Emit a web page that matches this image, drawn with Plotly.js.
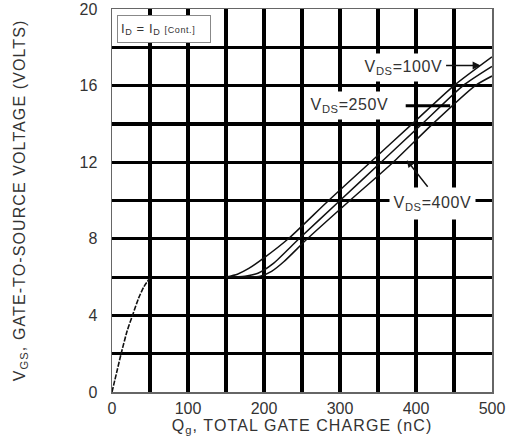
<!DOCTYPE html>
<html>
<head>
<meta charset="utf-8">
<script src="https://cdn.plot.ly/plotly-3.0.1.min.js"></script>
<style>
html,body{margin:0;padding:0;background:#fff;}
#chart{width:507px;height:439px;}
#chart .xtitle, #chart .ytitle {letter-spacing: 1.1px;}
#chart .annotation-text {letter-spacing: 0.6px;}
</style>
</head>
<body>
<div id="chart"></div>
<script>
// Gate charge data (Qg in nC, VGS in volts)
var qgInitial = [0, 6, 12, 20, 27, 35, 42, 50];
var vgsInitial = [0, 1, 2, 3.2, 4, 4.9, 5.5, 5.95];

var qg100 = [150, 165, 180, 200, 232, 285, 340, 395, 450, 500];
var vgs100 = [6, 6.15, 6.45, 7.0, 8, 10, 12, 14, 16, 17.5];

var qg250 = [150, 175, 192, 212, 246, 300, 354, 408, 462, 500];
var vgs250 = [6, 6.05, 6.2, 6.7, 8, 10, 12, 14, 16, 17.0];

var qg400 = [150, 195, 210, 226, 257, 313, 370, 422, 478, 500];
var vgs400 = [6, 6.05, 6.3, 6.8, 8, 10, 12, 14, 16, 16.5];

var xTicks = [0, 100, 200, 300, 400, 500];
var yTicks = [0, 4, 8, 12, 16, 20];

var FONT = 'Liberation Sans, Arial, sans-serif';
var TXT = '#333';

var lineStyle = {color: '#111', width: 1.5, shape: 'spline', smoothing: 0.6};

var traces = [
  {x: qgInitial, y: vgsInitial, mode: 'lines', name: 'initial',
   line: {color: '#111', width: 1.6, dash: '5px,1.5px', shape: 'spline', smoothing: 0.6}, hoverinfo: 'skip'},
  {x: qg100, y: vgs100, mode: 'lines', name: 'VDS=100V', line: lineStyle},
  {x: qg250, y: vgs250, mode: 'lines', name: 'VDS=250V', line: lineStyle},
  {x: qg400, y: vgs400, mode: 'lines', name: 'VDS=400V', line: lineStyle}
];

var layout = {
  width: 507, height: 439,
  margin: {l: 112, r: 15, t: 9, b: 47},
  paper_bgcolor: '#fff', plot_bgcolor: '#fff',
  showlegend: false,
  font: {family: FONT, color: TXT, size: 16},
  xaxis: {
    range: [0, 500], tickmode: 'array', tickvals: xTicks,
    ticktext: xTicks.map(String),
    showgrid: true, gridcolor: '#000', gridwidth: 3.2,
    minor: {dtick: 50, tick0: 0, showgrid: true, gridcolor: '#000', gridwidth: 3.2},
    zeroline: false, showline: true, mirror: true, linecolor: '#666', linewidth: 1.5,
    ticks: '', ticklabelstandoff: 1,
    tickfont: {family: FONT, size: 16, color: TXT},
    title: {text: 'Q<sub>g</sub>, TOTAL GATE CHARGE (nC)', standoff: 0,
            font: {family: FONT, size: 16, color: TXT}},
    fixedrange: true
  },
  yaxis: {
    range: [0, 20], tickmode: 'array', tickvals: yTicks,
    ticktext: yTicks.map(String),
    showgrid: true, gridcolor: '#000', gridwidth: 3.2,
    minor: {dtick: 2, tick0: 0, showgrid: true, gridcolor: '#000', gridwidth: 3.2},
    zeroline: false, showline: true, mirror: true, linecolor: '#666', linewidth: 1.5,
    ticks: '', ticklabelstandoff: 10,
    tickfont: {family: FONT, size: 16, color: TXT},
    title: {text: 'V<sub>GS</sub>, GATE-TO-SOURCE VOLTAGE (VOLTS)', standoff: 50,
            font: {family: FONT, size: 16, color: TXT}},
    fixedrange: true
  },
  annotations: [
    {xref: 'x', yref: 'y', x: 7, y: 18.95, xanchor: 'left', yanchor: 'middle',
     text: 'I<sub>D</sub> = I<sub>D</sub> <span style="font-size:9px;color:#333">[Cont.]</span>',
     showarrow: false, bgcolor: '#fff', bordercolor: '#888', borderwidth: 1, borderpad: 3,
     width: 86, height: 20, align: 'left',
     font: {family: FONT, size: 13, color: TXT}},
    {xref: 'x', yref: 'y', x: 485, y: 17.05, ax: -36, ay: 0, axref: 'pixel', ayref: 'pixel',
     text: '', showarrow: true, arrowhead: 2, arrowsize: 1, arrowwidth: 1.6, arrowcolor: '#111'},
    {xref: 'x', yref: 'y', x: 384, y: 16.95, xanchor: 'center', yanchor: 'middle',
     text: 'V<sub>DS</sub>=100V', showarrow: false, bgcolor: '#fff', borderpad: 4,
     font: {family: FONT, size: 16, color: TXT}},
    {xref: 'x', yref: 'y', x: 445, y: 14.95, ax: -46, ay: 0, axref: 'pixel', ayref: 'pixel',
     text: '', showarrow: true, arrowhead: 0, arrowwidth: 3, arrowcolor: '#000'},
    {xref: 'x', yref: 'y', x: 313, y: 14.95, xanchor: 'center', yanchor: 'middle',
     text: 'V<sub>DS</sub>=250V', showarrow: false, bgcolor: '#fff', borderpad: 4,
     font: {family: FONT, size: 16, color: TXT}},
    {xref: 'x', yref: 'y', x: 388, y: 12.1, ax: 22, ay: 28, axref: 'pixel', ayref: 'pixel',
     text: '', showarrow: true, arrowhead: 2, arrowsize: 1, arrowwidth: 1.4, arrowcolor: '#111'},
    {xref: 'x', yref: 'y', x: 422, y: 9.85, xanchor: 'center', yanchor: 'middle',
     text: 'V<sub>DS</sub>=400V', showarrow: false, bgcolor: '#fff', borderpad: 6,
     font: {family: FONT, size: 16, color: TXT}}
  ]
};

Plotly.newPlot('chart', traces, layout, {displayModeBar: false, staticPlot: true});
</script>
</body>
</html>
